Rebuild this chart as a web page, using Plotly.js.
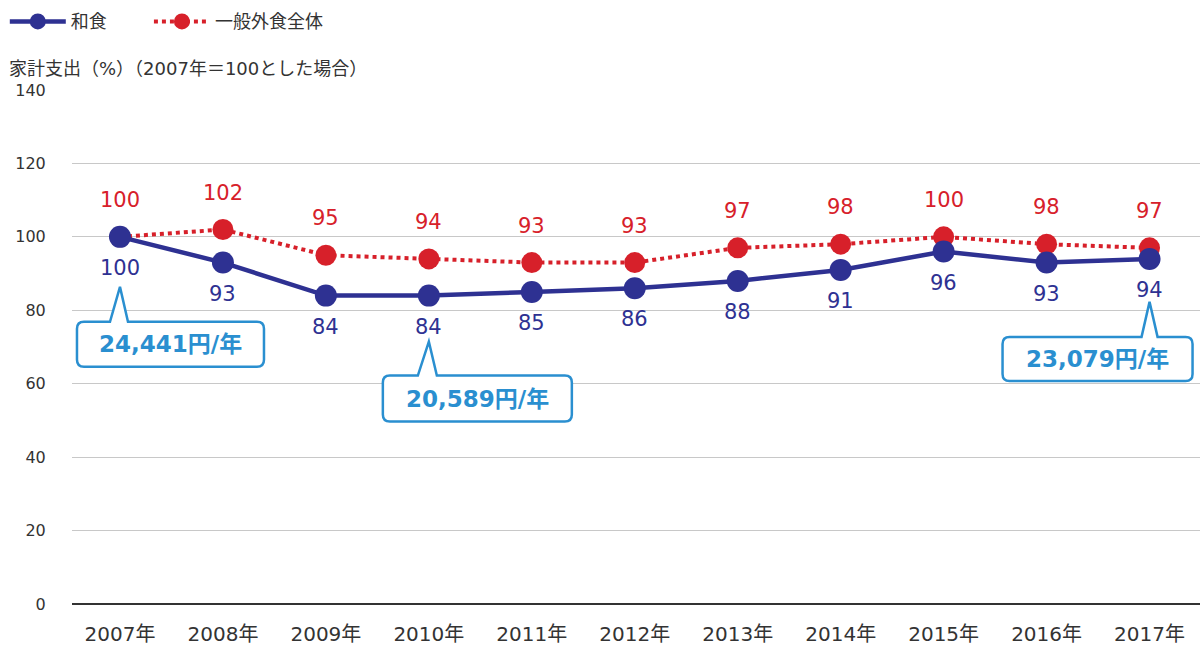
<!DOCTYPE html>
<html><head><meta charset="utf-8">
<script src="https://cdn.plot.ly/plotly-3.0.1.min.js"></script>
<style>html,body{margin:0;padding:0;background:#fff}#chart{width:1201px;height:648px}</style>
</head><body><div id="chart"></div>
<script>
const years = ['2007年','2008年','2009年','2010年','2011年','2012年','2013年','2014年','2015年','2016年','2017年'];
const washoku = [100,93,84,84,85,86,88,91,96,93,94];
const gaishoku = [100,102,95,94,93,93,97,98,100,98,97];
const seriesNames = ['和食','一般外食全体'];
const calloutYears = ['2007年','2010年','2017年'];
const calloutLabels = ['24,441円/年','20,589円/年','23,079円/年'];
const yTicks = [0,20,40,60,80,100,120,140];
const yTitle = '家計支出（%）（2007年＝100とした場合）';

const BLUE = '#2e3192', RED = '#d7202a', CALL = '#2a8fd0';
const FONT = '"DejaVu Sans", "Noto Sans CJK JP", sans-serif';
const CJK = '"Noto Sans CJK JP", "DejaVu Sans", sans-serif';
const xi = years.map((_, i) => i);

const traces = [
  {x: xi, y: gaishoku, name: seriesNames[1], type: 'scatter', mode: 'lines+markers', legend: 'legend2',
   line: {color: RED, width: 4, dash: '4px,4px'}, marker: {color: RED, size: 21}},
  {x: xi, y: washoku, name: seriesNames[0], type: 'scatter', mode: 'lines+markers', legend: 'legend',
   line: {color: BLUE, width: 4.5}, marker: {color: BLUE, size: 22}}
];

const annotations = [];
washoku.forEach((v, i) => annotations.push({x: i, y: v, xref: 'x', yref: 'y', text: String(v), showarrow: false,
  yshift: -31, font: {family: FONT, size: 21, color: BLUE}}));
gaishoku.forEach((v, i) => annotations.push({x: i, y: v, xref: 'x', yref: 'y', text: String(v), showarrow: false,
  yshift: 37, font: {family: FONT, size: 21, color: RED}}));
annotations.push({xref: 'paper', yref: 'paper', x: 0, y: 1, xshift: -65, yshift: 22, xanchor: 'left', yanchor: 'middle',
  text: yTitle, showarrow: false, font: {family: FONT, size: 18, color: '#333'}});

// callout geometry (pixels relative to data point, y up)
const geo = [
  {left: -43, right: 144, top: -85, bottom: -130, tip: -50, bl: -10, br: 8},
  {left: -46, right: 143, top: -80, bottom: -126, tip: -46, bl: -11, br: 8},
  {left: -147, right: 43, top: -78, bottom: -122, tip: -43, bl: -8, br: 8}
];
function calloutPath(g, r) {
  const {left, right, top, bottom, tip, bl, br} = g;
  return `M${left + r},${top} L${bl},${top} L0,${tip} L${br},${top} L${right - r},${top} ` +
    `Q${right},${top} ${right},${top - r} L${right},${bottom + r} Q${right},${bottom} ${right - r},${bottom} ` +
    `L${left + r},${bottom} Q${left},${bottom} ${left},${bottom + r} L${left},${top - r} Q${left},${top} ${left + r},${top} Z`;
}
const shapes = [];
calloutYears.forEach((yr, k) => {
  const i = years.indexOf(yr);
  const g = geo[k];
  shapes.push({type: 'path', xref: 'x', yref: 'y', xsizemode: 'pixel', ysizemode: 'pixel',
    xanchor: i, yanchor: washoku[i], path: calloutPath(g, 7),
    line: {color: CALL, width: 2.5}, fillcolor: '#fff', layer: 'above'});
  annotations.push({x: i, y: washoku[i], xref: 'x', yref: 'y', showarrow: false, text: '<b>' + calloutLabels[k] + '</b>',
    xshift: (g.left + g.right) / 2, yshift: (g.top + g.bottom) / 2, font: {family: FONT, size: 23, color: CALL}});
});

const legendBase = {orientation: 'h', xref: 'container', yref: 'container', y: 0.995, xanchor: 'left', yanchor: 'top',
  itemwidth: 56, font: {family: CJK, size: 18, color: '#333'}, bgcolor: 'rgba(0,0,0,0)'};

const layout = {
  width: 1201, height: 648,
  margin: {l: 72, r: 1, t: 90, b: 44},
  paper_bgcolor: '#fff', plot_bgcolor: '#fff',
  font: {family: FONT, color: '#333'},
  showlegend: true,
  legend: Object.assign({}, legendBase, {x: 0.004}),
  legend2: Object.assign({}, legendBase, {x: 0.124}),
  xaxis: {type: 'linear', range: [-0.466, 10.49], tickmode: 'array', tickvals: xi, ticktext: years,
    showgrid: false, zeroline: false, showline: false, ticks: 'outside', ticklen: 12, tickcolor: 'rgba(0,0,0,0)',
    tickfont: {family: FONT, size: 20, color: '#333'}, fixedrange: true},
  yaxis: {range: [0, 140], tickmode: 'array', tickvals: yTicks, showgrid: true, gridcolor: '#c8c8c8', gridwidth: 1,
    zeroline: true, zerolinecolor: '#333', zerolinewidth: 1.5, showline: false,
    ticks: 'outside', ticklen: 22, tickcolor: 'rgba(0,0,0,0)',
    tickfont: {family: FONT, size: 16, color: '#333'}, fixedrange: true},
  annotations, shapes
};
Plotly.newPlot('chart', traces, layout, {displayModeBar: false, staticPlot: true});
</script></body></html>
